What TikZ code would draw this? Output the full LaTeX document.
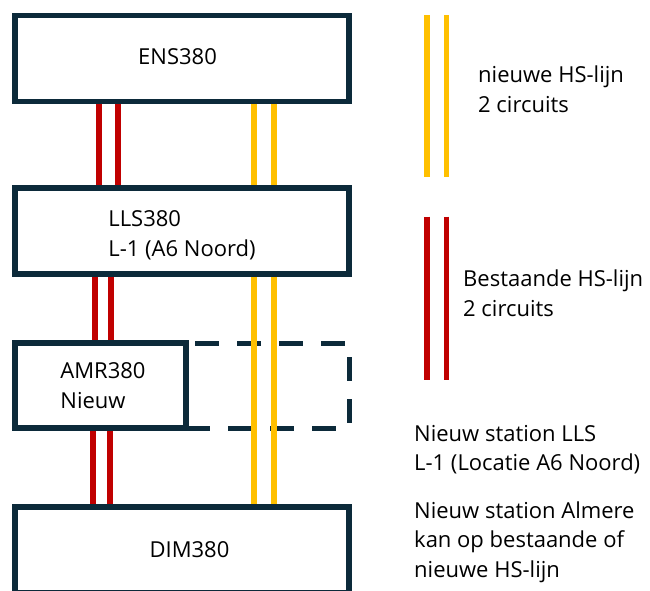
\documentclass[tikz,border=0pt]{standalone}
\usepackage{fontspec}
\setmainfont{Open Sans}
\definecolor{navy}{HTML}{0C2A3A}
\definecolor{redc}{HTML}{C00000}
\definecolor{yelc}{HTML}{FFC000}
\begin{document}
\begin{tikzpicture}[x=1pt,y=-1pt,
  box/.style={draw=navy, line width=5.5pt, fill=white, minimum width=334pt,
    minimum height=86pt, inner sep=0pt, align=left,
    font=\fontsize{22}{29.5}\selectfont},
  redl/.style={draw=redc, line width=5.5pt},
  yell/.style={draw=yelc, line width=5.5pt},
  dashline/.style={draw=navy, line width=5pt, dash pattern=on 23.5pt off 18.5pt},
  legtxt/.style={inner sep=0pt, align=left, anchor=base west,
    font=\fontsize{22}{29.5}\selectfont}]
\useasboundingbox (0,0) rectangle (650,590);
\clip (0,0) rectangle (650,590);

% boxes
\node[box] (ens) at (182,58.5) {ENS380\rule[-4pt]{0pt}{4pt}\hspace{9pt}};
\node[box] (lls) at (182,231) {\rule{0pt}{24pt}LLS380\\L-1 (A6 Noord)};
\node[box, minimum width=171pt, minimum height=85pt] (amr) at (100.5,385.5) {\hspace*{5pt}AMR380\\\hspace*{5pt}Nieuw};
\node[box] (dim) at (182,550) {\hspace{15pt}DIM380};

% x positions of the lines
\coordinate (ra1) at (98.8,0);
\coordinate (ra2) at (118,0);
\coordinate (rb1) at (95,0);
\coordinate (rb2) at (111,0);
\coordinate (rc1) at (93,0);
\coordinate (rc2) at (110,0);
\coordinate (y1) at (254,0);
\coordinate (y2) at (274,0);

% dashed extension of AMR380
\coordinate (dtl) at (186,343);
\coordinate (dtr) at (349,343);
\coordinate (dbr) at (349,428);
\coordinate (dbl) at (186,428);
\draw[dashline, dash phase=33pt] (dtl) -- (dtr);
\draw[dashline, dash phase=28pt] (dtr) -- (dbr);
\draw[dashline] (dbl) -- (dbr);

% red lines
\draw[redl] (ens.south -| ra1) -- (lls.north -| ra1);
\draw[redl] (ens.south -| ra2) -- (lls.north -| ra2);
\draw[redl] (lls.south -| rb1) -- (amr.north -| rb1);
\draw[redl] (lls.south -| rb2) -- (amr.north -| rb2);
\draw[redl] (amr.south -| rc1) -- (dim.north -| rc1);
\draw[redl] (amr.south -| rc2) -- (dim.north -| rc2);

% yellow lines
\draw[yell] (ens.south -| y1) -- (lls.north -| y1);
\draw[yell] (ens.south -| y2) -- (lls.north -| y2);
\draw[yell] (lls.south -| y1) -- (dim.north -| y1);
\draw[yell] (lls.south -| y2) -- (dim.north -| y2);

% legend
\coordinate (lya) at (427,15);
\coordinate (lyb) at (427,177);
\coordinate (lyc) at (446.5,15);
\coordinate (lyd) at (446.5,177);
\draw[yell] (lya) -- (lyb);
\draw[yell] (lyc) -- (lyd);
\coordinate (lra) at (427,216.7);
\coordinate (lrb) at (427,380);
\coordinate (lrc) at (446.5,216.7);
\coordinate (lrd) at (446.5,380);
\draw[redl] (lra) -- (lrb);
\draw[redl] (lrc) -- (lrd);

\node[legtxt] (t1) at (478,112) {nieuwe HS-lijn\\2 circuits};
\node[legtxt] (t2) at (463,316) {Bestaande HS-lijn\\2 circuits};
\node[legtxt] (t3) at (414,470.5) {Nieuw station LLS\\L-1 (Locatie A6 Noord)};
\node[legtxt] (t4) at (414,577) {Nieuw station Almere\\kan op bestaande of\\nieuwe HS-lijn};
\end{tikzpicture}
\end{document}
